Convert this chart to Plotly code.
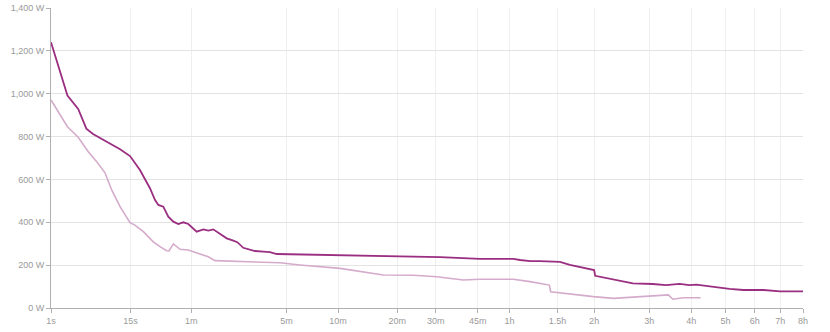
import numpy as np
import plotly.graph_objects as go

# Durations in seconds and power in watts
dark_t = [1, 2, 3, 4, 5, 7, 8.5, 11.3, 14.8, 19.1, 24.4, 27.5, 29.7, 33.2, 37.1, 41.4, 46, 51, 56.5,
          61.7, 66.7, 75.8, 83.3, 91.3, 97.2, 106.3, 116.1, 130.1, 139.2, 153.8, 167, 185.9, 211.8,
          234.6, 259.5, 362.6, 615, 990, 1877, 2760, 3726, 3948, 4298, 4675, 5505, 5960, 6454,
          7200, 7260, 8290, 9600, 11060, 12140, 13310, 14220, 14870, 16560, 18450, 20130, 22790,
          25180, 28800]
dark_w = [1240, 991, 929, 837, 812, 784, 769, 741, 709, 644, 559, 504, 481, 473, 426, 403, 392, 400, 392,
          372, 356, 367, 361, 367, 356, 341, 325, 314, 307, 281, 274, 266, 263,
          261, 252, 250, 244, 240, 237, 229, 229, 224, 219, 219, 215, 201, 191,
          177, 150, 134, 115, 112, 107, 113, 107, 109, 98, 89, 84, 84,
          78, 78]

light_t = [1, 2, 3, 4.27, 5.63, 7.3, 8.9, 11.3, 14.8, 16.8, 20.8, 26.4, 30.8, 35.8, 37.7, 41.4, 47.7,
           56.5, 71.1, 83.3, 94.2, 130, 201, 272, 363, 615, 1028, 1427, 1817, 2356, 2760, 3726,
           4298, 5050, 5105, 5960, 7160, 8330, 9600, 11060, 12330, 12710, 13650, 15315]
light_w = [971, 846, 797, 729, 683, 631, 551, 473, 398, 387, 356, 309, 286, 267, 266, 299, 274,
           271, 252, 239, 221, 218, 213, 211, 201, 185, 154, 153, 146, 131, 134, 134,
           123, 107, 76, 65, 53, 45, 51, 56, 61, 41, 48, 48]

tick_secs = [1, 15, 60, 300, 600, 1200, 1800, 2700, 3600, 5400, 7200, 10800, 14400, 18000,
             21600, 25200, 28800]
tick_labels = ["1s", "15s", "1m", "5m", "10m", "20m", "30m", "45m", "1h", "1.5h", "2h", "3h",
               "4h", "5h", "6h", "7h", "8h"]

y_ticks = [0, 200, 400, 600, 800, 1000, 1200, 1400]
y_labels = ["0 W", "200 W", "400 W", "600 W", "800 W", "1,000 W", "1,200 W", "1,400 W"]

P = 0.2  # power scale exponent of the time axis


def sc(v):
    return np.power(np.asarray(v, dtype=float), P)


fig = go.Figure()
fig.add_trace(go.Scatter(x=sc(light_t), y=light_w, mode="lines",
                         line=dict(color="#d5abcb", width=1.6), hoverinfo="skip"))
fig.add_trace(go.Scatter(x=sc(dark_t), y=dark_w, mode="lines",
                         line=dict(color="#9a2e80", width=1.8), hoverinfo="skip"))

tick_font = dict(family="Liberation Sans, Arial, sans-serif", size=9, color="#9a9a9a")

fig.update_layout(
    width=830, height=332,
    margin=dict(l=51, r=27, t=8, b=24),
    paper_bgcolor="white", plot_bgcolor="white",
    showlegend=False,
    xaxis=dict(range=[1, float(sc(28800))], tickvals=sc(tick_secs), ticktext=tick_labels,
               showgrid=True, gridcolor="#efefef", gridwidth=1,
               showline=True, linecolor="#b0b0b0", linewidth=1,
               ticks="outside", ticklen=4, tickcolor="#b0b0b0",
               tickfont=tick_font, zeroline=False, fixedrange=True, automargin=False),
    yaxis=dict(range=[0, 1400], tickvals=y_ticks, ticktext=y_labels,
               showgrid=True, gridcolor="#e3e3e3", gridwidth=1,
               showline=True, linecolor="#b0b0b0", linewidth=1,
               ticks="outside", ticklen=4, tickcolor="#b0b0b0",
               tickfont=tick_font, zeroline=False, fixedrange=True, automargin=False),
)

fig.write_html("out.html")
